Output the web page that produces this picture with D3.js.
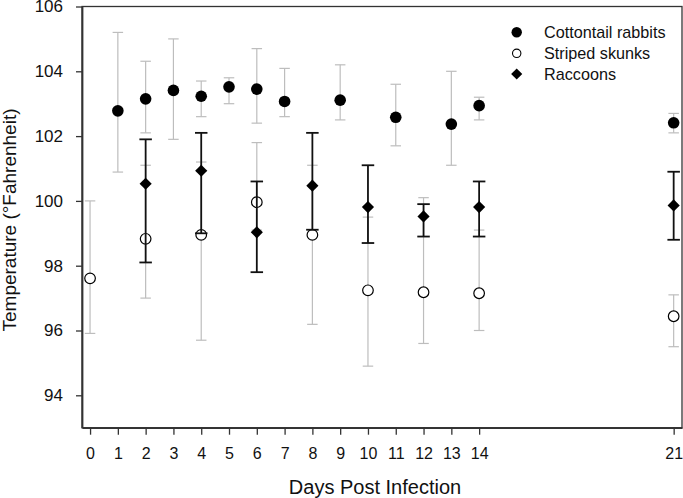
<!DOCTYPE html>
<html><head><meta charset="utf-8">
<script src="https://cdn.jsdelivr.net/npm/d3@7"></script>
<style>body{margin:0;background:#fff}svg{display:block}text{font-family:"Liberation Sans",Arial,sans-serif;fill:#111}</style>
</head><body><svg id="c" width="683" height="498"></svg>
<script>
const xTicks = [0,1,2,3,4,5,6,7,8,9,10,11,12,13,14,21];
const yTicks = [94,96,98,100,102,104,106];
const rabbitDays  = [1,2,3,4,5,6,7,9,11,13,14,21];
const rabbitMean  = [102.78,103.15,103.41,103.23,103.52,103.45,103.07,103.11,102.58,102.37,102.94,102.41];
const rabbitUpper = [105.2,104.31,105.0,103.7,103.8,104.7,104.09,104.2,103.6,104.0,103.2,102.7];
const rabbitLower = [100.89,102.1,101.9,102.6,103.0,102.4,102.6,102.5,101.7,101.1,102.5,102.1];
const skunkDays  = [0,2,4,6,8,10,12,14,21];
const skunkMean  = [97.61,98.83,98.95,99.96,98.95,97.24,97.18,97.15,96.44];
const skunkUpper = [100.0,101.1,101.2,101.8,101.1,99.5,100.1,99.1,97.1];
const skunkLower = [95.91,97.0,95.7,99.1,96.19,94.9,95.6,96.0,95.5];
const raccoonDays  = [2,4,6,8,10,12,14,21];
const raccoonMean  = [100.53,100.93,99.03,100.47,99.81,99.52,99.81,99.86];
const raccoonUpper = [101.9,102.1,100.6,102.1,101.1,99.9,100.6,100.9];
const raccoonLower = [98.1,99.0,97.8,99.11,98.7,98.9,98.9,98.8];
const legendLabels = ["Cottontail rabbits","Striped skunks","Raccoons"];

const svg = d3.select("#c");
const L=82, R=682, T=6.5, B=427.7;
const x = d3.scaleLinear().domain([-0.29,21.3]).range([L,R]);
const y = d3.scaleLinear().domain([93,106]).range([B,T]);

const zip = (d,m,u,l)=>d.map((v,i)=>({d:v,m:m[i],u:u[i],l:l[i]}));
const rabbits = zip(rabbitDays,rabbitMean,rabbitUpper,rabbitLower);
const skunks = zip(skunkDays,skunkMean,skunkUpper,skunkLower);
const raccoons = zip(raccoonDays,raccoonMean,raccoonUpper,raccoonLower);

// frame
svg.append("rect").attr("x",L).attr("y",T).attr("width",R-L).attr("height",B-T)
  .attr("fill","none").attr("stroke","#333").attr("stroke-width",1.3);

const ax = svg.append("g").attr("transform",`translate(0,${B})`)
  .call(d3.axisBottom(x).tickValues(xTicks).tickSize(7).tickPadding(13).tickSizeOuter(0));
const ay = svg.append("g").attr("transform",`translate(${L},0)`)
  .call(d3.axisLeft(y).tickValues(yTicks).tickSize(6).tickPadding(13).tickSizeOuter(0));
[ax,ay].forEach(g=>{
  g.select(".domain").attr("stroke","#333").attr("stroke-width",1.8);
  g.selectAll(".tick line").attr("stroke","#333").attr("stroke-width",1.3);
  g.selectAll(".tick text").attr("fill","#111")
   .style("font-family","'Liberation Sans',Arial,sans-serif");
});
ax.selectAll(".tick text").attr("font-size",16);
ay.selectAll(".tick text").attr("font-size",17);

function bars(data,color,w,cap){
  const g = svg.append("g").attr("stroke",color).attr("stroke-width",w);
  data.forEach(p=>{
    g.append("line").attr("x1",x(p.d)).attr("x2",x(p.d)).attr("y1",y(p.u)).attr("y2",y(p.l));
    [p.u,p.l].forEach(v=>g.append("line").attr("x1",x(p.d)-cap/2).attr("x2",x(p.d)+cap/2).attr("y1",y(v)).attr("y2",y(v)));
  });
}
const diamond = d3.symbol().type(d3.symbolSquare).size(74);
const diamondSmall = d3.symbol().type(d3.symbolSquare).size(62);

bars(rabbits,"#bdbdbd",1.2,10.5);
bars(skunks,"#bdbdbd",1.2,10.5);
svg.append("g").selectAll("circle").data(rabbits).join("circle")
  .attr("cx",d=>x(d.d)).attr("cy",d=>y(d.m)).attr("r",5.8).attr("fill","#000");
svg.append("g").selectAll("circle").data(skunks).join("circle")
  .attr("cx",d=>x(d.d)).attr("cy",d=>y(d.m)).attr("r",5.3).attr("fill","#fff").attr("stroke","#000").attr("stroke-width",1.2);
bars(raccoons,"#111",1.8,12.5);
svg.append("g").selectAll("path").data(raccoons).join("path")
  .attr("d",diamond).attr("transform",d=>`translate(${x(d.d)},${y(d.m)}) rotate(45)`).attr("fill","#000");

// axis titles
svg.append("text").attr("x",375).attr("y",494).attr("text-anchor","middle").attr("font-size",20).text("Days Post Infection");
svg.append("text").attr("transform",`translate(15.5,220) rotate(-90)`).attr("text-anchor","middle").attr("font-size",19).text("Temperature (°Fahrenheit)");

// legend
const lg = svg.append("g");
const ly = [32.3,53.3,74];
lg.append("circle").attr("cx",516.7).attr("cy",ly[0]).attr("r",5.2).attr("fill","#000");
lg.append("circle").attr("cx",516.7).attr("cy",ly[1]).attr("r",4.2).attr("fill","#fff").attr("stroke","#000").attr("stroke-width",1.1);
lg.append("path").attr("d",diamondSmall).attr("transform",`translate(516.7,${ly[2]}) rotate(45)`).attr("fill","#000");
legendLabels.forEach((t,i)=>lg.append("text").attr("x",544).attr("y",ly[i]).attr("dy","0.36em").attr("font-size",16.2).text(t));
</script></body></html>
